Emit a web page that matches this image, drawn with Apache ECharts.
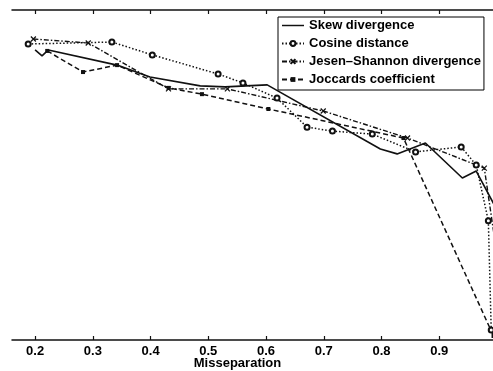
<!DOCTYPE html>
<html>
<head>
<meta charset="utf-8">
<script src="https://cdn.jsdelivr.net/npm/echarts@6/dist/echarts.min.js"></script>
<style>
html,body{margin:0;padding:0;background:#fff;}
#chart{width:493px;height:371px;}
</style>
</head>
<body>
<div id="chart"></div>
<script>
// Tick labels
var xTicks = [0.2, 0.3, 0.4, 0.5, 0.6, 0.7, 0.8, 0.9];

// Skew divergence (solid)
var skewX = [0.200, 0.212, 0.223, 0.342, 0.399, 0.486, 0.529, 0.602, 0.798, 0.827, 0.876, 0.940, 0.964, 1.000];
var skewY = [0.879, 0.861, 0.879, 0.833, 0.797, 0.770, 0.767, 0.773, 0.579, 0.564, 0.597, 0.491, 0.512, 0.394];

// Cosine distance (dotted, circles)
var cosX = [0.188, 0.333, 0.403, 0.517, 0.560, 0.619, 0.671, 0.715, 0.784, 0.859, 0.938, 0.964, 0.985, 0.990];
var cosY = [0.897, 0.903, 0.864, 0.806, 0.779, 0.733, 0.645, 0.633, 0.624, 0.570, 0.585, 0.530, 0.361, 0.030];

// Jesen-Shannon divergence (dash-dot, x)
var jsX = [0.197, 0.292, 0.431, 0.533, 0.699, 0.845, 0.978, 1.000];
var jsY = [0.912, 0.900, 0.761, 0.761, 0.694, 0.612, 0.521, 0.258];

// Joccards coefficient (dashed, squares)
var jcX = [0.221, 0.283, 0.342, 0.431, 0.489, 0.604, 0.838, 0.994];
var jcY = [0.876, 0.812, 0.833, 0.764, 0.745, 0.700, 0.612, 0.012];

var names = ['Skew divergence', 'Cosine distance', 'Jesen\u2013Shannon divergence', 'Joccards coefficient'];

function zip(a, b) { return a.map(function (v, i) { return [v, b[i]]; }); }

var FONT = 'Liberation Sans, Arial, sans-serif';
var ink = '#111';
var xPath = 'path://M0,0L10,10M10,0L0,10';

var chart = echarts.init(document.getElementById('chart'), null, {renderer: 'canvas'});
chart.setOption({
  animation: false,
  backgroundColor: '#fff',
  grid: {left: 12, right: -4, top: 10, bottom: 31, containLabel: false, outerBoundsMode: 'none'},
  xAxis: [{
    type: 'value', position: 'bottom', min: 0.16, max: 1.0,
    axisLine: {show: true, lineStyle: {color: ink, width: 1.5}},
    axisTick: {show: true, inside: true, length: 4, customValues: xTicks, lineStyle: {color: ink, width: 1.2}},
    axisLabel: {show: true, margin: 5, customValues: xTicks, color: '#000', fontFamily: FONT, fontSize: 13, fontWeight: 'bold',
      formatter: function (v) { return v.toFixed(1); }},
    splitLine: {show: false},
    name: 'Misseparation', nameLocation: 'middle', nameGap: 17, nameMoveOverlap: false,
    nameTextStyle: {color: '#000', fontFamily: FONT, fontSize: 13, fontWeight: 'bold', verticalAlign: 'top', padding: [0, 34, 0, 0]}
  }, {
    type: 'value', position: 'top', min: 0.16, max: 1.0,
    axisLine: {show: true, lineStyle: {color: ink, width: 1.5}},
    axisTick: {show: true, inside: true, length: 4, customValues: xTicks, lineStyle: {color: ink, width: 1.2}},
    axisLabel: {show: false},
    splitLine: {show: false}
  }],
  yAxis: {
    type: 'value', min: 0, max: 1,
    axisLine: {show: false}, axisTick: {show: false}, axisLabel: {show: false}, splitLine: {show: false}
  },
  legend: {
    orient: 'vertical', left: 278, top: 17,
    padding: [2, 3, 4, 3], itemGap: 5,
    itemWidth: 22, itemHeight: 6, itemTextGap: 1,
    backgroundColor: '#fff', borderColor: '#000', borderWidth: 1, borderRadius: 0,
    textStyle: {color: '#000', fontFamily: FONT, fontSize: 13, fontWeight: 'bold'},
    data: [
      {name: names[0], icon: 'path://M0,0H24V1.6H0Z', itemStyle: {color: ink}},
      names[1], names[2], names[3]
    ]
  },
  series: [{
    name: names[0], type: 'line', data: zip(skewX, skewY),
    showSymbol: false, symbol: 'none',
    lineStyle: {color: ink, width: 1.6, type: 'solid'},
    itemStyle: {color: ink}
  }, {
    name: names[1], type: 'line', data: zip(cosX, cosY),
    symbol: 'emptyCircle', symbolSize: 5,
    lineStyle: {color: ink, width: 1.5, type: [1.5, 2]},
    itemStyle: {color: ink, borderColor: ink, borderWidth: 1.2}
  }, {
    name: names[2], type: 'line', data: zip(jsX, jsY),
    symbol: xPath, symbolSize: 5,
    lineStyle: {color: ink, width: 1.4, type: [5, 2, 1.5, 2]},
    itemStyle: {color: ink, borderColor: ink, borderWidth: 1.2}
  }, {
    name: names[3], type: 'line', data: zip(jcX, jcY),
    symbol: 'rect', symbolSize: 4,
    lineStyle: {color: ink, width: 1.5, type: [5, 3]},
    itemStyle: {color: ink}
  }]
});
</script>
</body>
</html>
